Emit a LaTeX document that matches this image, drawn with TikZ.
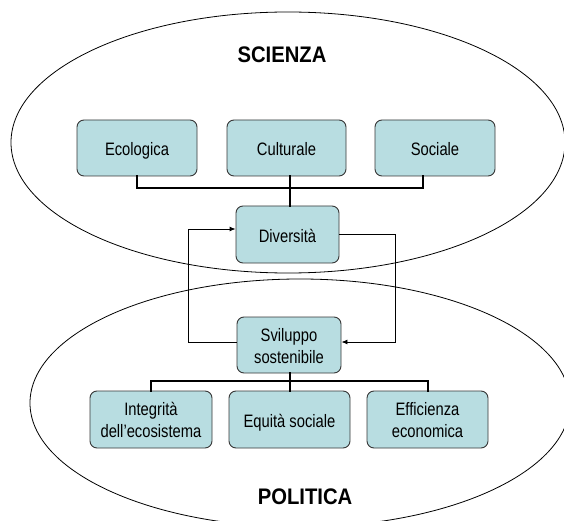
\documentclass[tikz,border=0pt]{standalone}
\usepackage{fontspec}
\setmainfont[FakeStretch=0.82]{Liberation Sans}
\newfontfamily\titlefont[FakeStretch=0.9]{Liberation Sans}
\usetikzlibrary{arrows.meta}
\definecolor{boxfill}{RGB}{184,221,225}
\definecolor{boxline}{RGB}{55,55,55}
\newcommand{\oneln}[1]{\rule{0pt}{16pt}\smash{#1}}
\newcommand{\twoln}[2]{\rule{0pt}{14pt}\smash{#1}\\\smash{#2}}
\begin{document}
\begin{tikzpicture}[x=1pt,y=-1pt,
  box/.style={draw=boxline, fill=boxfill, rounded corners=7pt, line width=0.9pt,
    minimum height=56pt, align=center, inner sep=0pt,
    font=\fontsize{18}{22}\selectfont},
  title/.style={font=\titlefont\fontsize{22.5}{26}\selectfont\bfseries, inner sep=0pt},
  tree/.style={line width=2.2pt, line cap=rect},
  loop/.style={line width=0.9pt},
  arr/.style={-{Latex[length=6pt,width=5pt]}},
  oval/.style={line width=0.8pt}]
\useasboundingbox (0,0) rectangle (564,521);
\clip (0,0) rectangle (564,521);
\fill[white] (0,0) rectangle (564,521);
% ellipses
\draw[oval] (288,142.5) ellipse [x radius=277pt, y radius=130.5pt];
\draw[oval] (300,403) ellipse [x radius=270pt, y radius=124pt];
% titles
\node[title] (sci) at (282,55) {SCIENZA};
\node[title] (pol) at (305,497) {POLITICA};
% tree coordinates
\coordinate (ecoT) at (137,188);
\coordinate (socT) at (423,188);
\coordinate (culT) at (290,188);
\coordinate (intT) at (151,381);
\coordinate (effT) at (428,381);
\coordinate (sviT) at (290,381);
% boxes
\node[box, minimum width=120pt] (eco) at (137,148) {\oneln{Ecologica}};
\node[box, minimum width=119pt] (cul) at (286.5,148) {\oneln{Culturale}};
\node[box, minimum width=120pt] (soc) at (435,148) {\oneln{Sociale}};
\node[box, minimum width=103pt, minimum height=57pt] (div) at (287.5,234.5) {\oneln{Diversità}};
\node[box, minimum width=104pt] (svi) at (289,345) {\twoln{Sviluppo}{sostenibile}};
\node[box, minimum width=122pt, minimum height=57pt] (int) at (151,419.5) {\twoln{Integrità}{dell’ecosistema}};
\node[box, minimum width=121pt, minimum height=57pt] (equ) at (289.5,419.5) {\oneln{Equità sociale}};
\node[box, minimum width=121pt, minimum height=57pt] (eff) at (427.5,419.5) {\twoln{Efficienza}{economica}};
% upper tree
\draw[tree] (eco.south -| ecoT) -- (ecoT) -- (socT) -- (soc.south -| socT);
\draw[tree] (cul.south -| culT) -- (div.north -| culT);
% lower tree
\draw[tree] (svi.south -| sviT) -- (equ.north -| sviT);
\draw[tree] (int.north -| intT) -- (intT) -- (effT) -- (eff.north -| effT);
% feedback loop
\coordinate (lx) at (188,0);
\coordinate (rx) at (395,0);
\draw[loop, arr] ([yshift=3pt]svi.west) -| ([yshift=5.5pt]div.west -| lx) -- ([yshift=5.5pt]div.west);
\draw[loop, arr] (div.east) -| ([yshift=3pt]svi.east -| rx) -- ([yshift=3pt]svi.east);
\end{tikzpicture}
\end{document}
